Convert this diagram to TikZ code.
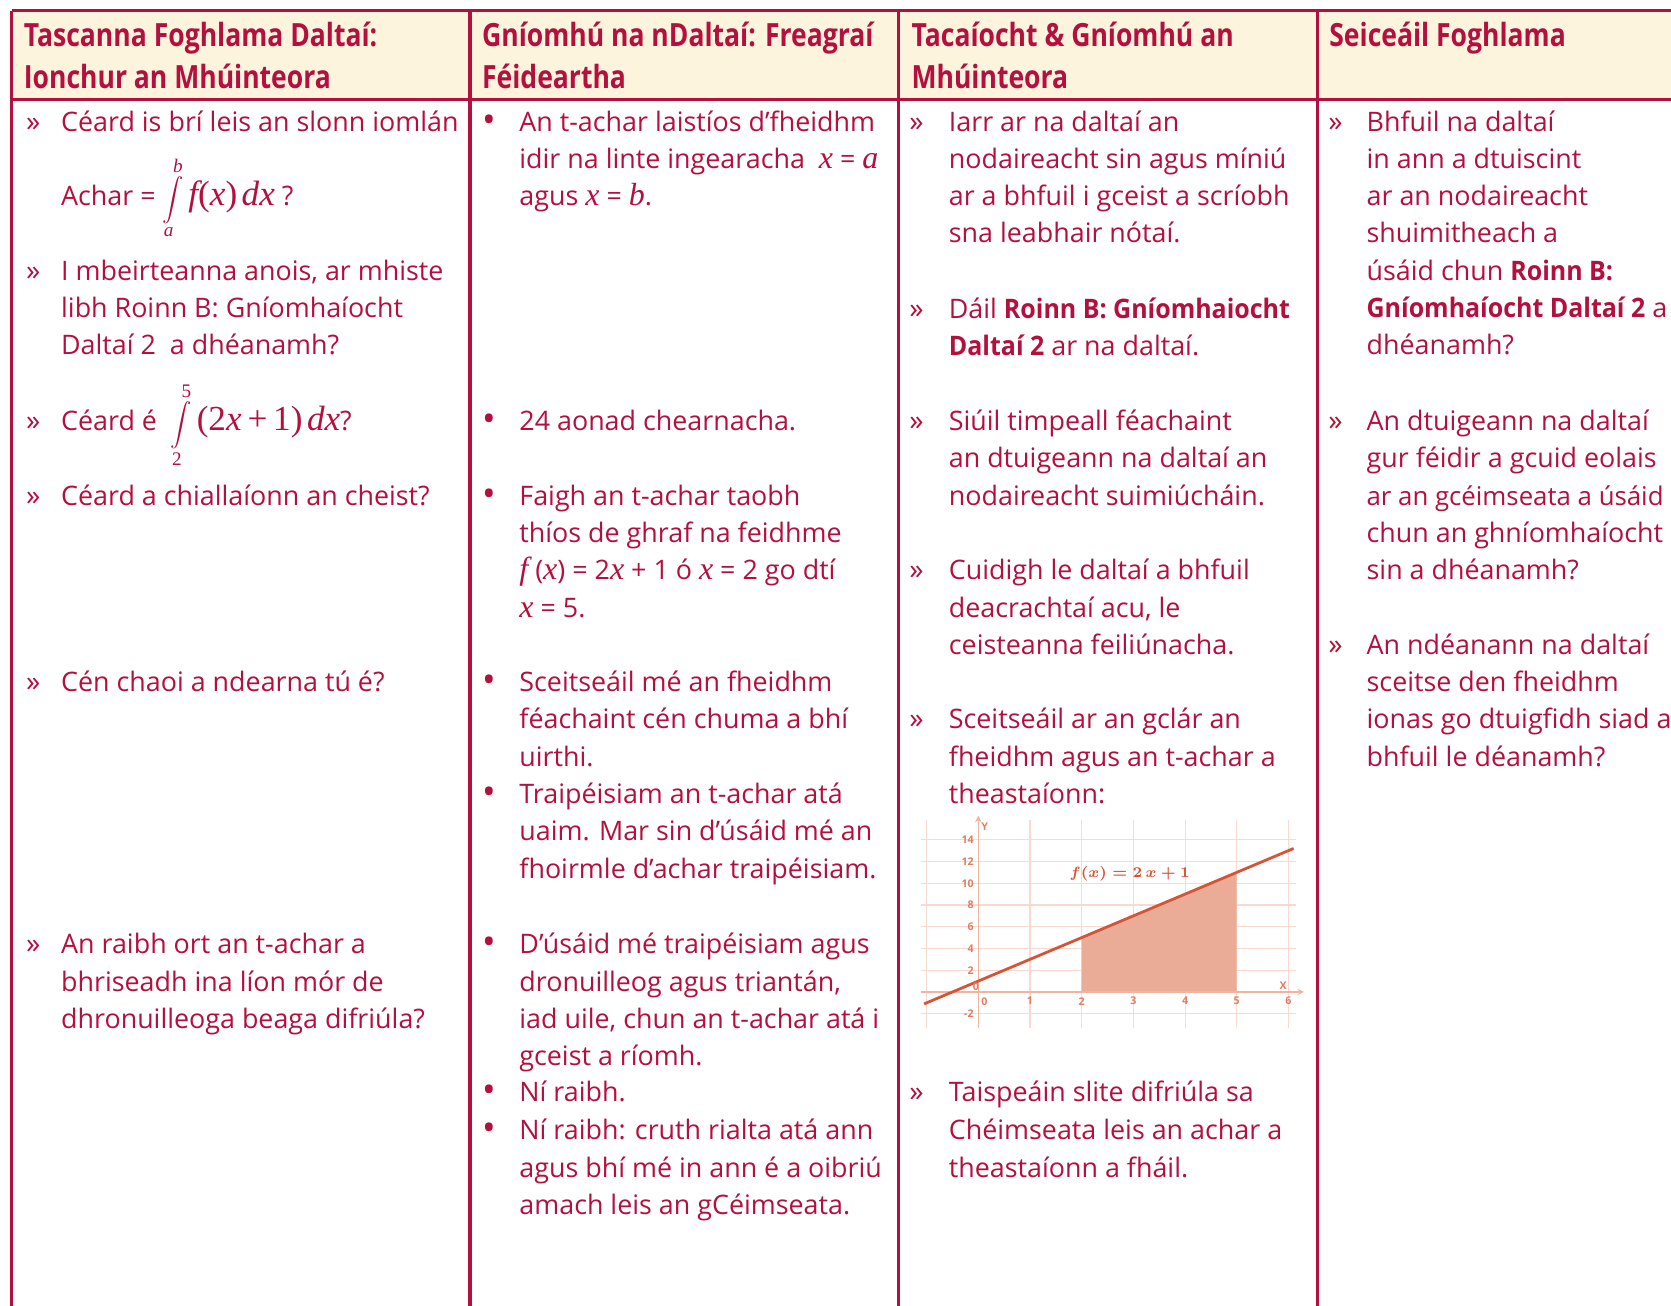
\documentclass[tikz,border=0pt]{standalone}
\usepackage{fontspec}
\setmainfont{Open Sans}
\newfontfamily\hdrfont[FakeStretch=0.83]{Open Sans}
\newfontfamily\sbfont[FakeStretch=0.93]{Open Sans}
\newfontfamily\tms{Liberation Serif}
\usetikzlibrary{arrows.meta}
\definecolor{crim}{RGB}{180,16,62}
\definecolor{cream}{RGB}{253,244,222}
\definecolor{gline}{RGB}{214,84,54}
\definecolor{gfill}{RGB}{234,172,150}
\definecolor{ggrid}{RGB}{248,218,208}
\definecolor{gaxis}{RGB}{240,180,160}
\definecolor{glab}{RGB}{226,124,98}
\newcommand\mi[1]{{\tms\itshape\fontsize{15}{14}\selectfont #1}}
\newcommand\mI[1]{{\tms\itshape\fontsize{16.5}{14}\selectfont #1}}
\newcommand\mR[1]{{\tms\fontsize{16.5}{14}\selectfont #1}}
\newcommand\limt[1]{{\tms\fontsize{9}{9}\selectfont #1}}
\newcommand\flab{\ensuremath{f(x)=2\,x+1}}
\newcommand\bul{{\fontsize{17}{14}\selectfont •}}
\newcommand\raq{{\fontsize{13.5}{14}\selectfont »}}
\newcommand\semib[1]{{\sbfont\bfseries #1}}
\newcounter{ln}
\newcommand\tl[3]{\stepcounter{ln}\node[txt] (t\arabic{ln}) at (#1,#2) {#3};}
\begin{document}
\begin{tikzpicture}[x=0.5pt,y=-0.5pt,
  txt/.style={anchor=base west, inner sep=0pt, text=crim, font=\fontsize{12.6}{14}\selectfont},
  hdr/.style={anchor=base west, inner sep=0pt, text=crim, font=\hdrfont\bfseries\fontsize{15}{18}\selectfont},
  rule/.style={draw=crim, line width=1.5pt},
  glabel/.style={inner sep=0pt, text=glab, font=\bfseries\fontsize{5}{5}\selectfont},
  gflab/.style={inner sep=0pt, text=gline, font=\boldmath\fontsize{7.5}{8}\selectfont}]
\useasboundingbox (0,0) rectangle (1568,1225);
\clip (0,0) rectangle (1568,1225);
% header band
\fill[cream] (11,10) rectangle (1580,93);
\draw[rule] (11,10) -- (1580,10);
\draw[rule] (11,93) -- (1580,93);
\foreach \xx in {11,441,843,1236} \draw[rule] (\xx,10) -- (\xx,1240);
% headers
\node[hdr] (h1a) at (22,44) {Tascanna Foghlama Daltaí:};
\node[hdr] (h1b) at (22,83) {Ionchur an Mhúinteora};
\node[hdr] (h2a) at (452,44) {Gníomhú na nDaltaí: Freagraí};
\node[hdr] (h2b) at (452,83) {Féideartha};
\node[hdr] (h3a) at (855,44) {Tacaíocht \& Gníomhú an};
\node[hdr] (h3b) at (855,83) {Mhúinteora};
\node[hdr] (h4a) at (1247,44) {Seiceáil Foghlama};
% column 1
\tl{24}{123}{\raq}\tl{57}{123}{Céard is brí leis an slonn iomlán}
\tl{57}{193}{Achar = {\fontsize{10}{12}\selectfont$\displaystyle\int\limits_{\hbox{\limt{\itshape a}}}^{\hbox{\limt{\itshape b}}}$}\,\mI{f}\mR{(}\mI{x}\mR{)}\,\mI{dx} ?}
\tl{24}{263}{\raq}\tl{57}{263}{I mbeirteanna anois, ar mhiste}
\tl{57}{298}{libh Roinn B: Gníomhaíocht}
\tl{57}{333}{Daltaí 2\ \ a dhéanamh?}
\tl{24}{404}{\raq}\tl{57}{404}{Céard é\ \ {\fontsize{10}{12}\selectfont$\displaystyle\int\limits_{\hbox{\limt{2}}}^{\hbox{\limt{5}}}$}\,\mR{(2}\mI{x}\mR{\,+\,1)}\,\mI{dx}?}
\tl{24}{474}{\raq}\tl{57}{474}{Céard a chiallaíonn an cheist?}
\tl{24}{649}{\raq}\tl{57}{649}{Cén chaoi a ndearna tú é?}
\tl{24}{895}{\raq}\tl{57}{895}{An raibh ort an t-achar a}
\tl{57}{930}{bhriseadh ina líon mór de}
\tl{57}{965}{dhronuilleoga beaga difriúla?}
% column 2
\tl{452}{124}{\bul}\tl{487}{123}{An t-achar laistíos d’fheidhm}
\tl{487}{158}{idir na linte ingearacha\ \ \mi{x} = \mi{a}}
\tl{487}{193}{agus \mi{x} = \mi{b}.}
\tl{452}{405}{\bul}\tl{487}{404}{24 aonad chearnacha.}
\tl{452}{475}{\bul}\tl{487}{474}{Faigh an t-achar taobh}
\tl{487}{509}{thíos de ghraf na feidhme}
\tl{487}{544}{\mi{f} (\mi{x}) = 2\mi{x} + 1 ó \mi{x} = 2 go dtí}
\tl{487}{579}{\mi{x} = 5.}
\tl{452}{650}{\bul}\tl{487}{649}{Sceitseáil mé an fheidhm}
\tl{487}{684}{féachaint cén chuma a bhí}
\tl{487}{719}{uirthi.}
\tl{452}{755}{\bul}\tl{487}{754}{Traipéisiam an t-achar atá}
\tl{487}{789}{uaim. Mar sin d’úsáid mé an}
\tl{487}{824}{fhoirmle d’achar traipéisiam.}
\tl{452}{896}{\bul}\tl{487}{895}{D’úsáid mé traipéisiam agus}
\tl{487}{930}{dronuilleog agus triantán,}
\tl{487}{965}{iad uile, chun an t-achar atá i}
\tl{487}{1000}{gceist a ríomh.}
\tl{452}{1035}{\bul}\tl{487}{1034}{Ní raibh.}
\tl{452}{1070}{\bul}\tl{487}{1069}{Ní raibh: cruth rialta atá ann}
\tl{487}{1105}{agus bhí mé in ann é a oibriú}
\tl{487}{1140}{amach leis an gCéimseata.}
% column 3
\tl{853}{123}{\raq}\tl{890}{123}{Iarr ar na daltaí an}
\tl{890}{158}{nodaireacht sin agus míniú}
\tl{890}{193}{ar a bhfuil i gceist a scríobh}
\tl{890}{228}{sna leabhair nótaí.}
\tl{853}{299}{\raq}\tl{890}{299}{Dáil \semib{Roinn B: Gníomhaiocht}}
\tl{890}{334}{\semib{Daltaí 2} ar na daltaí.}
\tl{853}{404}{\raq}\tl{890}{404}{Siúil timpeall féachaint}
\tl{890}{439}{an dtuigeann na daltaí an}
\tl{890}{474}{nodaireacht suimiúcháin.}
\tl{853}{544}{\raq}\tl{890}{544}{Cuidigh le daltaí a bhfuil}
\tl{890}{579}{deacrachtaí acu, le}
\tl{890}{614}{ceisteanna feiliúnacha.}
\tl{853}{684}{\raq}\tl{890}{684}{Sceitseáil ar an gclár an}
\tl{890}{719}{fheidhm agus an t-achar a}
\tl{890}{754}{theastaíonn:}
\tl{853}{1034}{\raq}\tl{890}{1034}{Taispeáin slite difriúla sa}
\tl{890}{1069}{Chéimseata leis an achar a}
\tl{890}{1105}{theastaíonn a fháil.}
% column 4
\tl{1246}{123}{\raq}\tl{1282}{123}{Bhfuil na daltaí}
\tl{1282}{158}{in ann a dtuiscint}
\tl{1282}{193}{ar an nodaireacht}
\tl{1282}{228}{shuimitheach a}
\tl{1282}{263}{úsáid chun \semib{Roinn B:}}
\tl{1282}{298}{\semib{Gníomhaíocht Daltaí 2} a}
\tl{1282}{333}{dhéanamh?}
\tl{1246}{404}{\raq}\tl{1282}{404}{An dtuigeann na daltaí}
\tl{1282}{439}{gur féidir a gcuid eolais}
\tl{1282}{474}{{\fontsize{12.1}{14}\selectfont ar an gcéimseata a úsáid}}
\tl{1282}{509}{chun an ghníomhaíocht}
\tl{1282}{544}{sin a dhéanamh?}
\tl{1246}{614}{\raq}\tl{1282}{614}{An ndéanann na daltaí}
\tl{1282}{649}{sceitse den fheidhm}
\tl{1282}{684}{ionas go dtuigfidh siad a}
\tl{1282}{719}{bhfuil le déanamh?}
% graph
\begin{scope}[shift={(459pt,-465.4pt)}, x=24.25pt, y=5.1pt]
  \foreach \i in {-1,...,6} \draw[ggrid, line width=0.5pt] (\i,-3.3) -- (\i,15.8);
  \foreach \j in {-2,0,...,14} \draw[ggrid, line width=0.5pt] (-1.1,\j) -- (6.15,\j);
  \fill[gfill] (2,0) -- (2,5) -- (5,11) -- (5,0) -- cycle;
  \draw[gaxis, line width=0.7pt, -{Stealth[length=3pt,width=3pt]}] (-1.1,0) -- (6.3,0);
  \draw[gaxis, line width=0.7pt, -{Stealth[length=3pt,width=3pt]}] (0,-3.3) -- (0,16.2);
  \draw[gline, line width=1.3pt] (-1.05,-1.1) -- (6.1,13.2);
  \foreach \i in {1,...,6} {\node[glabel] (gx\i) at (\i,-0.85) {\i};}
  \node[glabel] (gx0) at (0.12,-0.85) {0};
  \foreach \j in {2,4,...,14} {\node[glabel, anchor=east] (gy\j) at (-0.08,\j) {\j};}
  \node[glabel, anchor=east] (gy0) at (0.02,0.5) {0};
  \node[glabel, anchor=east] (gym) at (-0.08,-2) {-2};
  \node[glabel, anchor=west] (gY) at (0.05,15.2) {Y};
  \node[glabel] (gX) at (5.9,0.55) {X};
  \node[gflab] (gf) at (2.93,10.9) {\flab};
\end{scope}
\end{tikzpicture}
\end{document}
